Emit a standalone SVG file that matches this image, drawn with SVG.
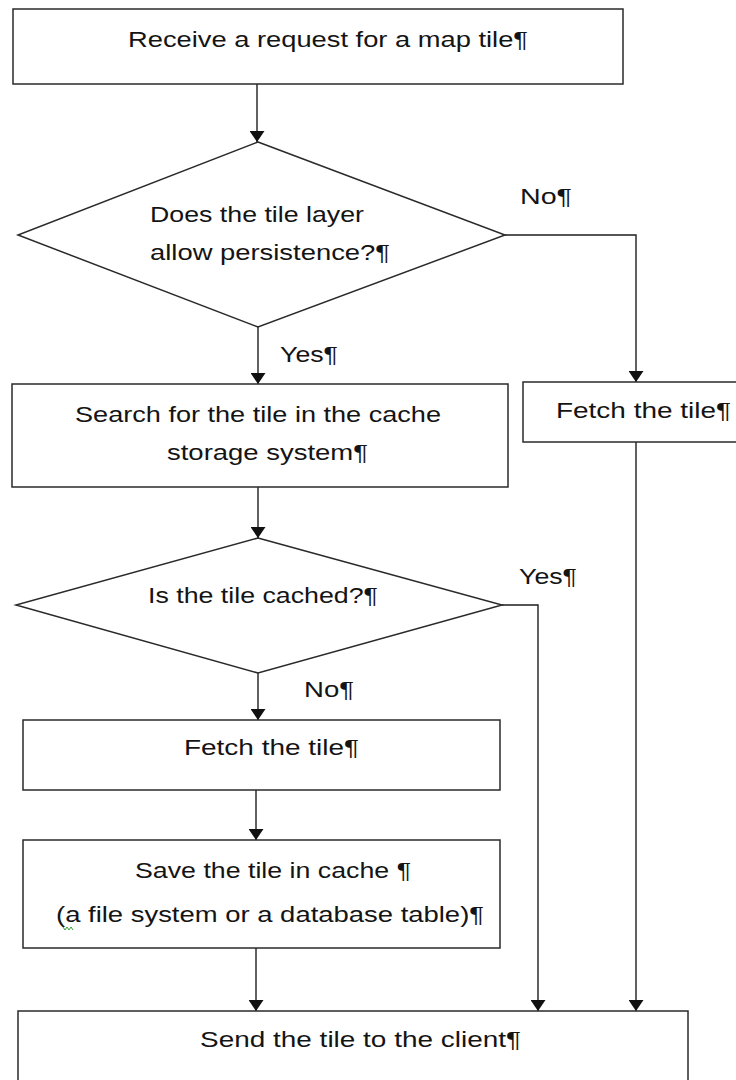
<svg xmlns="http://www.w3.org/2000/svg" width="736" height="1080" viewBox="0 0 736 1080">
<style>
.box{fill:#fff;stroke:#2a2a2a;stroke-width:1.5}
.t{font-family:"Liberation Sans",Arial,sans-serif;font-size:22px;fill:#141414}
.c{fill:none;stroke:#1e1e1e;stroke-width:1.4}
</style>
<defs>
<marker id="ah" viewBox="0 0 11 15" refX="11" refY="7.5" markerWidth="11" markerHeight="15" markerUnits="userSpaceOnUse" orient="auto">
<path d="M0,0 L11,7.5 L0,15 Z" fill="#111"/>
</marker>
</defs>
<rect width="736" height="1080" fill="#fff"/>
<g id="connectors">
<path class="c" d="M257,84 V142" marker-end="url(#ah)"/>
<path class="c" d="M258,327 V384" marker-end="url(#ah)"/>
<path class="c" d="M505,235 H636 V382" marker-end="url(#ah)"/>
<path class="c" d="M258,487 V538" marker-end="url(#ah)"/>
<path class="c" d="M502,605 H538 V1011" marker-end="url(#ah)"/>
<path class="c" d="M258,673 V720" marker-end="url(#ah)"/>
<path class="c" d="M636,442 V1011" marker-end="url(#ah)"/>
<path class="c" d="M256,790 V840" marker-end="url(#ah)"/>
<path class="c" d="M256,948 V1011" marker-end="url(#ah)"/>
</g>
<g id="n_receive">
<rect class="box" x="13" y="9" width="610" height="75"/>
<text class="t" x="128" y="47" textLength="400" lengthAdjust="spacingAndGlyphs">Receive a request for a map tile¶</text>
</g>
<g id="n_persist">
<polygon class="box" points="258,142 505,235 258,327 18,235"/>
<text class="t" x="150" y="222" textLength="214" lengthAdjust="spacingAndGlyphs">Does the tile layer</text>
<text class="t" x="150" y="260" textLength="240" lengthAdjust="spacingAndGlyphs">allow persistence?¶</text>
</g>
<g id="labels">
<text class="t" x="520" y="204" textLength="52" lengthAdjust="spacingAndGlyphs">No¶</text>
<text class="t" x="280" y="362" textLength="58" lengthAdjust="spacingAndGlyphs">Yes¶</text>
<text class="t" x="519" y="584" textLength="58" lengthAdjust="spacingAndGlyphs">Yes¶</text>
<text class="t" x="304" y="697" textLength="50" lengthAdjust="spacingAndGlyphs">No¶</text>
</g>
<g id="n_search">
<rect class="box" x="12" y="384" width="496" height="103"/>
<text class="t" x="75" y="422" textLength="366" lengthAdjust="spacingAndGlyphs">Search for the tile in the cache</text>
<text class="t" x="167" y="460" textLength="201" lengthAdjust="spacingAndGlyphs">storage system¶</text>
</g>
<g id="n_fetch_right">
<rect class="box" x="523" y="382" width="230" height="60"/>
<text class="t" x="556" y="418" textLength="175" lengthAdjust="spacingAndGlyphs">Fetch the tile¶</text>
</g>
<g id="n_cached">
<polygon class="box" points="258,538 502,605 258,673 16,605"/>
<text class="t" x="148" y="603" textLength="230" lengthAdjust="spacingAndGlyphs">Is the tile cached?¶</text>
</g>
<g id="n_fetch">
<rect class="box" x="23" y="720" width="477" height="70"/>
<text class="t" x="184" y="755" textLength="175" lengthAdjust="spacingAndGlyphs">Fetch the tile¶</text>
</g>
<g id="n_save">
<rect class="box" x="23" y="840" width="477" height="108"/>
<text class="t" x="135" y="878" textLength="276" lengthAdjust="spacingAndGlyphs">Save the tile in cache ¶</text>
<text class="t" x="56" y="922" textLength="428" lengthAdjust="spacingAndGlyphs">(a file system or a database table)¶</text>
<path d="M63,927 l2,3 l2,-3 l2,3 l2,-3 l2,3" fill="none" stroke="#3a9a3a" stroke-width="1"/>
</g>
<g id="n_send">
<rect class="box" x="18" y="1011" width="670" height="90"/>
<text class="t" x="200" y="1047" textLength="321" lengthAdjust="spacingAndGlyphs">Send the tile to the client¶</text>
</g>
</svg>
